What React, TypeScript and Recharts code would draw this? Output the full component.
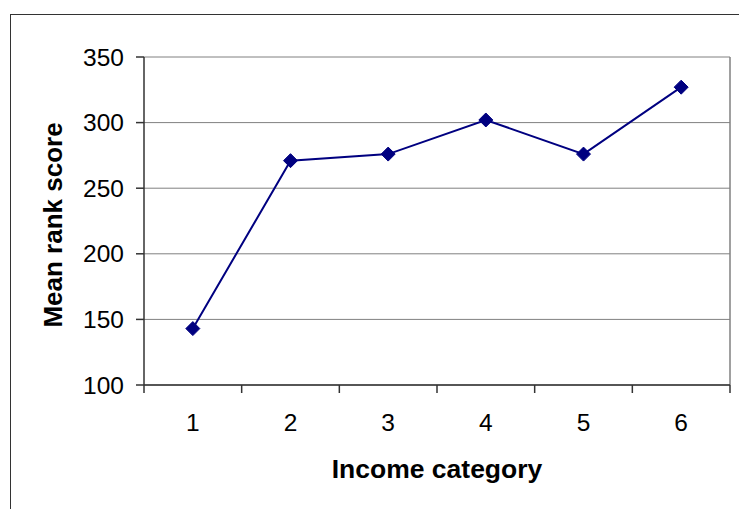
import { LineChart, Line, XAxis, YAxis, CartesianGrid, ReferenceLine } from "recharts";

const categories = [1, 2, 3, 4, 5, 6];
const meanRank = [143, 271, 276, 302, 276, 327];
const yTicks = [100, 150, 200, 250, 300, 350];
// label ticks sit on the categories, tick marks on the boundaries between them
const xTicks = [0.5, 1, 1.5, 2, 2.5, 3, 3.5, 4, 4.5, 5, 5.5, 6, 6.5];

const data = categories.map((c, i) => ({ income: c, score: meanRank[i] }));

const FONT = "Arial, 'Liberation Sans', sans-serif";
const NAVY = "#000080";

function Diamond({ cx, cy }: { cx?: number; cy?: number }) {
  if (cx == null || cy == null) return null;
  const r = 7;
  return (
    <polygon
      points={`${cx},${cy - r} ${cx + r},${cy} ${cx},${cy + r} ${cx - r},${cy}`}
      fill={NAVY}
      stroke={NAVY}
    />
  );
}

function IncomeTick({ x, y, payload }: any) {
  const v = Number(payload.value);
  if (Number.isInteger(v)) {
    return (
      <text x={x} y={y + 46} textAnchor="middle" fontSize={24.5} fontFamily={FONT} fill="#000">
        {v}
      </text>
    );
  }
  return <line x1={x} x2={x} y1={y} y2={y + 8} stroke="#333" strokeWidth={1.5} />;
}

function ScoreTitle({ viewBox }: any) {
  const cx = viewBox.x + 43;
  const cy = viewBox.y + viewBox.height / 2 + 4;
  return (
    <text
      x={cx}
      y={cy}
      dy="0.36em"
      transform={`rotate(-90, ${cx}, ${cy})`}
      textAnchor="middle"
      fontFamily={FONT}
      fontSize={26}
      fontWeight={700}
      fill="#000"
    >
      Mean rank score
    </text>
  );
}

export default function App() {
  return (
    <div style={{ position: "fixed", left: 0, top: 0, width: 739, height: 509, overflow: "hidden", background: "#fff" }}>
      {/* chart-area frame; its right and bottom edges run past the page */}
      <div
        style={{
          position: "absolute",
          left: 10,
          top: 14,
          width: 740,
          height: 500,
          borderLeft: "1px solid #333",
          borderTop: "1px solid #333",
        }}
      />
      <div style={{ position: "absolute", left: 0, top: 0 }}>
        <LineChart width={739} height={509} data={data} margin={{ top: 57, right: 9, bottom: 24, left: 10 }}>
          <CartesianGrid vertical={false} stroke="#808080" strokeWidth={1} />
          <XAxis
            dataKey="income"
            type="number"
            domain={[0.5, 6.5]}
            ticks={xTicks}
            interval={0}
            height={100}
            tickLine={false}
            tickSize={0}
            tickMargin={0}
            axisLine={{ stroke: "#333", strokeWidth: 1.5 }}
            tick={<IncomeTick />}
            label={{
              value: "Income category",
              position: "insideBottom",
              offset: 7,
              style: { fontFamily: FONT, fontSize: 26.5, fontWeight: 700, fill: "#000" },
            }}
          />
          <YAxis
            domain={[100, 350]}
            ticks={yTicks}
            interval={0}
            width={134}
            tickSize={8}
            tickMargin={12}
            tickLine={{ stroke: "#333", strokeWidth: 1.5 }}
            axisLine={{ stroke: "#333", strokeWidth: 1.5 }}
            tick={{ fontSize: 24.5, fontFamily: FONT, fill: "#000" }}
            label={<ScoreTitle />}
          />
          <ReferenceLine x={6.5} stroke="#808080" strokeWidth={1.5} ifOverflow="extendDomain" />
          <Line
            type="linear"
            dataKey="score"
            stroke={NAVY}
            strokeWidth={2}
            dot={<Diamond />}
            activeDot={false}
            isAnimationActive={false}
          />
        </LineChart>
      </div>
    </div>
  );
}
